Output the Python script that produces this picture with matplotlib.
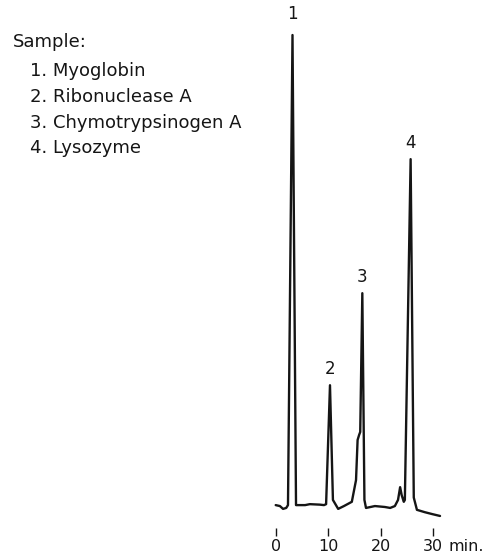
import matplotlib
matplotlib.use("Agg")
import matplotlib.pyplot as plt

# chromatogram trace (retention time in minutes, detector response in %)
retention_min = [0.0, 0.8, 1.4, 2.0, 2.34, 3.2, 3.87, 5.6, 6.5, 8.4, 9.2,
                 9.6, 10.34, 10.9, 11.9, 13.0, 14.0, 14.5,
                 15.3, 15.6, 15.9, 16.1, 16.5, 16.9, 17.2,
                 18.9, 20.8, 21.8, 22.7, 23.3, 23.7, 24.0, 24.4,
                 24.6, 25.7, 26.3, 26.9, 28.4, 29.8, 31.3]
response = [0.4, 0.2, -0.4, -0.2, 0.4, 100, 0.4, 0.4, 0.6, 0.5, 0.4,
            0.6, 25.8, 1.5, -0.4, 0.2, 0.8, 1.1,
            5.7, 14.2, 15.3, 15.9, 45.3, 1.5, -0.2,
            0.2, 0.0, -0.2, 0.2, 1.5, 4.2, 2.5, 1.1,
            1.5, 73.7, 2.0, -0.6, -1.1, -1.5, -1.9]

peak_numbers = ["1", "2", "3", "4"]
peak_times = [3.2, 10.34, 16.5, 25.7]
peak_heights = [100, 25.8, 45.3, 73.7]

sample_title = "Sample:"
sample_names = ["1. Myoglobin", "2. Ribonuclease A",
                "3. Chymotrypsinogen A", "4. Lysozyme"]

tick_values = [0, 10, 20, 30]
tick_labels = ["0", "10", "20", "30"]

ink = "#151515"
plt.rcParams['font.family'] = ['DejaVu Sans']

W, H = 495, 557
fig = plt.figure(figsize=(W / 100, H / 100), dpi=100)
ax = fig.add_axes([259.95 / W, (H - 528) / H, 215.25 / W, 523 / H])
ax.set_xlim(-3, 38)
ax.set_ylim(-4.45, 106.36)

ax.plot(retention_min, response, color=ink, lw=1.7,
        solid_joinstyle='round', solid_capstyle='round')

# peak numbers just above each apex
for num, t, h in zip(peak_numbers, peak_times, peak_heights):
    lift = 9 if num == "1" else 5.5
    ax.annotate(num, (t, h), xytext=(0, lift), textcoords='offset points',
                ha='center', va='bottom', fontsize=12, color=ink)

for side in ['left', 'right', 'top', 'bottom']:
    ax.spines[side].set_visible(False)
ax.set_yticks([])
ax.set_xticks(tick_values)
ax.set_xticklabels(tick_labels, fontsize=11.5, color=ink)
ax.tick_params(axis='x', direction='out', length=5.5, width=1.0,
               color=ink, pad=2.5)

fig.text(448 / W, (H - 551) / H, "min.", fontsize=11.5, color=ink,
         ha='left', va='baseline')

# sample list in the upper left
fig.text(13 / W, (H - 46.5) / H, sample_title, fontsize=13, color=ink,
         ha='left', va='baseline')
for i, name in enumerate(sample_names):
    fig.text(30 / W, (H - (75.5 + 26 * i)) / H, name, fontsize=13,
             color=ink, ha='left', va='baseline')

fig.savefig("out.png", dpi=100, facecolor='white')
